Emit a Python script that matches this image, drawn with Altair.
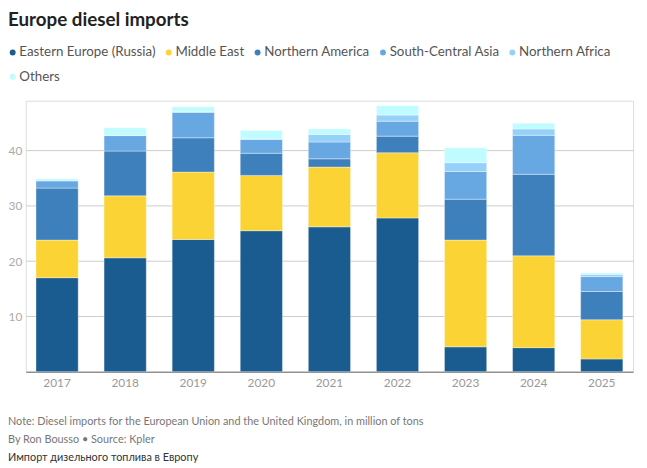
import altair as alt
import pandas as pd

years = ["2017", "2018", "2019", "2020", "2021", "2022", "2023", "2024", "2025"]
series = ["Eastern Europe (Russia)", "Middle East", "Northern America",
          "South-Central Asia", "Northern Africa", "Others"]
russia = [17.0, 20.6, 23.9, 25.5, 26.2, 27.8, 4.5, 4.35, 2.3]
middle_east = [6.8, 11.2, 12.2, 10.0, 10.8, 11.8, 19.3, 16.6, 7.1]
north_america = [9.4, 8.1, 6.2, 4.0, 1.5, 3.0, 7.4, 14.75, 5.1]
sc_asia = [1.3, 2.8, 4.6, 2.5, 3.05, 2.7, 5.0, 7.05, 2.7]
north_africa = [0.1, 0.0, 0.1, 0.1, 1.35, 1.1, 1.6, 1.15, 0.4]
others = [0.3, 1.4, 0.9, 1.5, 1.0, 1.7, 2.7, 1.05, 0.25]
colors = ["#1a5b90", "#fbd334", "#3e80bc", "#68a8e2", "#96d1fa", "#c0fcff"]

title_text = "Europe diesel imports"
note_lines = [
    "Note: Diesel imports for the European Union and the United Kingdom, in million of tons",
    "By Ron Bousso \u2022 Source: Kpler",
]
ru_line = "Импорт дизельного топлива в Европу"

rows = []
for si, (name, vals) in enumerate(zip(series, [russia, middle_east, north_america,
                                               sc_asia, north_africa, others])):
    for y, v in zip(years, vals):
        rows.append({"year": y, "region": name, "value": v, "order": si})
df = pd.DataFrame(rows)

FONT = "Lato"
LEFT = 18

bars = alt.Chart(df).mark_bar(stroke="white", strokeWidth=0.6, strokeOpacity=0.6).encode(
    x=alt.X("year:N", sort=years, title=None,
            scale=alt.Scale(paddingInner=0.38, paddingOuter=0.15),
            axis=alt.Axis(labelAngle=0, ticks=False, domain=True, domainColor="#666",
                          domainWidth=1, labelPadding=6, labelFontSize=12,
                          labelColor="#999", labelFont=FONT, grid=False)),
    y=alt.Y("value:Q", stack="zero", title=None,
            scale=alt.Scale(domain=[0, 49], nice=False),
            axis=alt.Axis(values=[10, 20, 30, 40], ticks=False, domain=False,
                          grid=True, gridColor="#cccccc", gridWidth=1,
                          labelPadding=4, labelFontSize=12, labelColor="#aaa",
                          labelFont=FONT)),
    color=alt.Color("region:N", sort=series,
                    scale=alt.Scale(domain=series, range=colors),
                    legend=alt.Legend(title=None, orient="none", legendX=-LEFT - 2, legendY=-56,
                                      direction="horizontal", columns=5,
                                      symbolType="circle", symbolSize=36,
                                      symbolStrokeWidth=0, labelFontSize=13.5,
                                      labelFont=FONT, labelColor="#555",
                                      labelOffset=0, columnPadding=6, rowPadding=10,
                                      padding=0)),
    order=alt.Order("order:Q", sort="ascending"),
)

one = alt.Data(values=[{}])

title = alt.Chart(one).mark_text(text=title_text, font=FONT, fontSize=19, fontWeight="bold",
                                  color="#222", align="left", baseline="alphabetic").encode(
    x=alt.value(-LEFT), y=alt.value(-76))

note1 = alt.Chart(one).mark_text(text=note_lines[0], font=FONT, fontSize=11, color="#777",
                                  align="left", baseline="alphabetic").encode(
    x=alt.value(-LEFT), y=alt.value(328))
note2 = alt.Chart(one).mark_text(text=note_lines[1], font=FONT, fontSize=11, color="#777",
                                  align="left", baseline="alphabetic").encode(
    x=alt.value(-LEFT), y=alt.value(347))
note3 = alt.Chart(one).mark_text(text=ru_line, font=FONT, fontSize=11, color="#333",
                                  align="left", baseline="alphabetic").encode(
    x=alt.value(-LEFT), y=alt.value(365))

chart = alt.layer(bars, title, note1, note2, note3).properties(
    width=615, height=274.4,
    autosize=alt.AutoSizeParams(type="none"),
    padding={"left": LEFT, "top": 91, "right": 6, "bottom": 95},
).configure_view(stroke=None).configure(background="white")

chart.save("out.html", embed_options={"renderer": "svg", "actions": False})
